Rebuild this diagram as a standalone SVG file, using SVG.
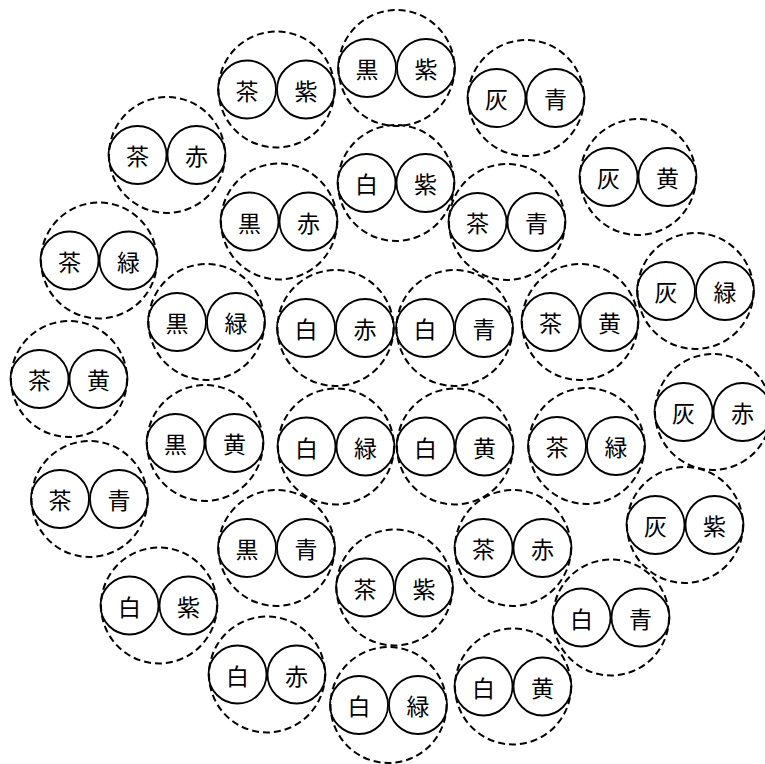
<svg xmlns="http://www.w3.org/2000/svg" width="765" height="764" viewBox="0 0 765 764">
<style>
.o{fill:none;stroke:#000;stroke-width:2;stroke-dasharray:7 4}
.i{fill:none;stroke:#000;stroke-width:1.8}
text{font-family:"Noto Sans CJK JP","Noto Sans CJK SC",sans-serif;font-size:23px;text-anchor:middle;dominant-baseline:central;fill:#000}
</style>
<rect width="765" height="764" fill="#fff"/>
<defs>
<g id="pair"><circle class="o" r="58"/><circle class="i" cx="-29.5" r="29"/><circle class="i" cx="29.5" r="29"/></g>
</defs>
<g id="nodes">
<g id="n_shiro_aka" transform="translate(335.5,328)"><use href="#pair"/><text x="-29.5">白</text><text x="29.5">赤</text></g>
<g id="n_shiro_ao" transform="translate(454.5,328)"><use href="#pair"/><text x="-29.5">白</text><text x="29.5">青</text></g>
<g id="n_shiro_midori" transform="translate(336,446.5)"><use href="#pair"/><text x="-29.5">白</text><text x="29.5">緑</text></g>
<g id="n_shiro_ki" transform="translate(455,446.5)"><use href="#pair"/><text x="-29.5">白</text><text x="29.5">黄</text></g>
<g id="m_shiro_murasaki" transform="translate(396,183)"><use href="#pair"/><text x="-29.5">白</text><text x="29.5">紫</text></g>
<g id="m_cha_ao" transform="translate(507,222)"><use href="#pair"/><text x="-29.5">茶</text><text x="29.5">青</text></g>
<g id="m_cha_ki" transform="translate(580,322)"><use href="#pair"/><text x="-29.5">茶</text><text x="29.5">黄</text></g>
<g id="m_cha_midori" transform="translate(586.5,446)"><use href="#pair"/><text x="-29.5">茶</text><text x="29.5">緑</text></g>
<g id="m_cha_aka" transform="translate(513,548)"><use href="#pair"/><text x="-29.5">茶</text><text x="29.5">赤</text></g>
<g id="m_cha_murasaki" transform="translate(394.5,587.5)"><use href="#pair"/><text x="-29.5">茶</text><text x="29.5">紫</text></g>
<g id="m_kuro_ao" transform="translate(276.5,548)"><use href="#pair"/><text x="-29.5">黒</text><text x="29.5">青</text></g>
<g id="m_kuro_ki" transform="translate(205,443)"><use href="#pair"/><text x="-29.5">黒</text><text x="29.5">黄</text></g>
<g id="m_kuro_midori" transform="translate(206.5,322)"><use href="#pair"/><text x="-29.5">黒</text><text x="29.5">緑</text></g>
<g id="m_kuro_aka" transform="translate(279,221.5)"><use href="#pair"/><text x="-29.5">黒</text><text x="29.5">赤</text></g>
<g id="o_kuro_murasaki" transform="translate(396.5,68)"><use href="#pair"/><text x="-29.5">黒</text><text x="29.5">紫</text></g>
<g id="o_hai_ao" transform="translate(526,98)"><use href="#pair"/><text x="-29.5">灰</text><text x="29.5">青</text></g>
<g id="o_hai_ki" transform="translate(638,177)"><use href="#pair"/><text x="-29.5">灰</text><text x="29.5">黄</text></g>
<g id="o_hai_midori" transform="translate(695.5,291)"><use href="#pair"/><text x="-29.5">灰</text><text x="29.5">緑</text></g>
<g id="o_hai_aka" transform="translate(713,412)"><use href="#pair"/><text x="-29.5">灰</text><text x="29.5">赤</text></g>
<g id="o_hai_murasaki" transform="translate(685,525)"><use href="#pair"/><text x="-29.5">灰</text><text x="29.5">紫</text></g>
<g id="o_shiro_ao" transform="translate(611,617.5)"><use href="#pair"/><text x="-29.5">白</text><text x="29.5">青</text></g>
<g id="o_shiro_ki" transform="translate(513,686.5)"><use href="#pair"/><text x="-29.5">白</text><text x="29.5">黄</text></g>
<g id="o_shiro_midori" transform="translate(388.5,705)"><use href="#pair"/><text x="-29.5">白</text><text x="29.5">緑</text></g>
<g id="o_shiro_aka" transform="translate(267,674.5)"><use href="#pair"/><text x="-29.5">白</text><text x="29.5">赤</text></g>
<g id="o_shiro_murasaki" transform="translate(159,605.5)"><use href="#pair"/><text x="-29.5">白</text><text x="29.5">紫</text></g>
<g id="o_cha_ao" transform="translate(89.5,499)"><use href="#pair"/><text x="-29.5">茶</text><text x="29.5">青</text></g>
<g id="o_cha_ki" transform="translate(69,379)"><use href="#pair"/><text x="-29.5">茶</text><text x="29.5">黄</text></g>
<g id="o_cha_midori" transform="translate(99,260.5)"><use href="#pair"/><text x="-29.5">茶</text><text x="29.5">緑</text></g>
<g id="o_cha_aka" transform="translate(167,155)"><use href="#pair"/><text x="-29.5">茶</text><text x="29.5">赤</text></g>
<g id="o_cha_murasaki" transform="translate(276.5,89.5)"><use href="#pair"/><text x="-29.5">茶</text><text x="29.5">紫</text></g>
</g>
</svg>
